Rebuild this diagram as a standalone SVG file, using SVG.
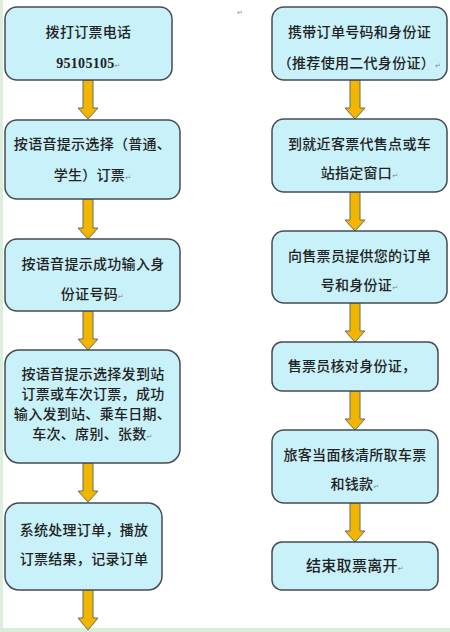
<svg xmlns="http://www.w3.org/2000/svg" width="450" height="632" viewBox="0 0 450 632">
<style>
.box{fill:#c9f1f9;stroke:#464b52;stroke-width:1.5}
.arr{fill:#f2b600;stroke:#6a6a60;stroke-width:1}
text{font-family:"Noto Sans CJK SC","Liberation Sans",sans-serif;font-size:14px;fill:#222222;text-anchor:middle;font-weight:500;letter-spacing:0.3px}
.num{font-family:"Liberation Serif",serif;font-weight:bold;font-size:14px}
.pm{font-family:"DejaVu Sans",sans-serif;font-size:7px;fill:#888;font-weight:normal}
</style>
<rect width="450" height="632" fill="#ffffff"/>
<rect x="0" y="0" width="3" height="632" fill="#dcefdc"/>
<rect x="0" y="628" width="450" height="4" fill="#d4efd4"/>
<text class="pm" x="240" y="15">↵</text>
<g id="connectors">
<path class="arr" d="M83,80 V108 H78 L88,119 L98,108 H93 V80 Z"/>
<path class="arr" d="M83,199 V228 H78 L88,239 L98,228 H93 V199 Z"/>
<path class="arr" d="M83,311 V339 H78 L88,350 L98,339 H93 V311 Z"/>
<path class="arr" d="M83,463 V491 H78 L88,502 L98,491 H93 V463 Z"/>
<path class="arr" d="M83,590 V618 H78 L88,630 L98,618 H93 V590 Z"/>
<path class="arr" d="M350,80 V108 H345 L355,119 L365,108 H360 V80 Z"/>
<path class="arr" d="M350,192 V220 H345 L355,231 L365,220 H360 V192 Z"/>
<path class="arr" d="M350,303 V331 H345 L355,342 L365,331 H360 V303 Z"/>
<path class="arr" d="M350,391 V419 H345 L355,430 L365,419 H360 V391 Z"/>
<path class="arr" d="M350,503 V531 H345 L355,542 L365,531 H360 V503 Z"/>
</g>
<g id="n1">
<rect class="box" x="5" y="7" width="167" height="73" rx="12"/>
<text x="88.5" y="37">拨打订票电话</text>
<text class="num" x="88.5" y="68">95105105<tspan class="pm">↵</tspan></text>
</g>
<g id="n2">
<rect class="box" x="5" y="120" width="175" height="79" rx="12"/>
<text x="92.5" y="149">按语音提示选择（普通、</text>
<text x="92.5" y="180">学生）订票<tspan class="pm">↵</tspan></text>
</g>
<g id="n3">
<rect class="box" x="5" y="239" width="175" height="72" rx="12"/>
<text x="93" y="269">按语音提示成功输入身</text>
<text x="92.5" y="299">份证号码<tspan class="pm">↵</tspan></text>
</g>
<g id="n4">
<rect class="box" x="5" y="350" width="175" height="113" rx="14"/>
<text x="93" y="379">按语音提示选择发到站</text>
<text x="93" y="399">订票或车次订票，成功</text>
<text x="92.5" y="419">输入发到站、乘车日期、</text>
<text x="92.5" y="439">车次、席别、张数<tspan class="pm">↵</tspan></text>
</g>
<g id="n5">
<rect class="box" x="5" y="503" width="157" height="87" rx="14"/>
<text x="84" y="535">系统处理订单，播放</text>
<text x="84" y="564">订票结果，记录订单</text>
</g>
<g id="r1">
<rect class="box" x="272" y="7" width="175" height="73" rx="12"/>
<text x="359.5" y="37">携带订单号码和身份证</text>
<text x="359.5" y="68">（推荐使用二代身份证）<tspan class="pm">↵</tspan></text>
</g>
<g id="r2">
<rect class="box" x="272" y="119" width="175" height="73" rx="12"/>
<text x="359.5" y="149">到就近客票代售点或车</text>
<text x="359.5" y="178">站指定窗口<tspan class="pm">↵</tspan></text>
</g>
<g id="r3">
<rect class="box" x="272" y="231" width="175" height="72" rx="12"/>
<text x="359.5" y="261">向售票员提供您的订单</text>
<text x="359.5" y="290">号和身份证<tspan class="pm">↵</tspan></text>
</g>
<g id="r4">
<rect class="box" x="272" y="342" width="166" height="49" rx="10"/>
<text x="352" y="371">售票员核对身份证，</text>
</g>
<g id="r5">
<rect class="box" x="272" y="430" width="166" height="73" rx="12"/>
<text x="355" y="460">旅客当面核清所取车票</text>
<text x="355" y="489">和钱款<tspan class="pm">↵</tspan></text>
</g>
<g id="r6">
<rect class="box" x="272" y="542" width="166" height="48" rx="10"/>
<text x="355" y="571" style="font-size:15px">结束取票离开<tspan class="pm">↵</tspan></text>
</g>
</svg>
